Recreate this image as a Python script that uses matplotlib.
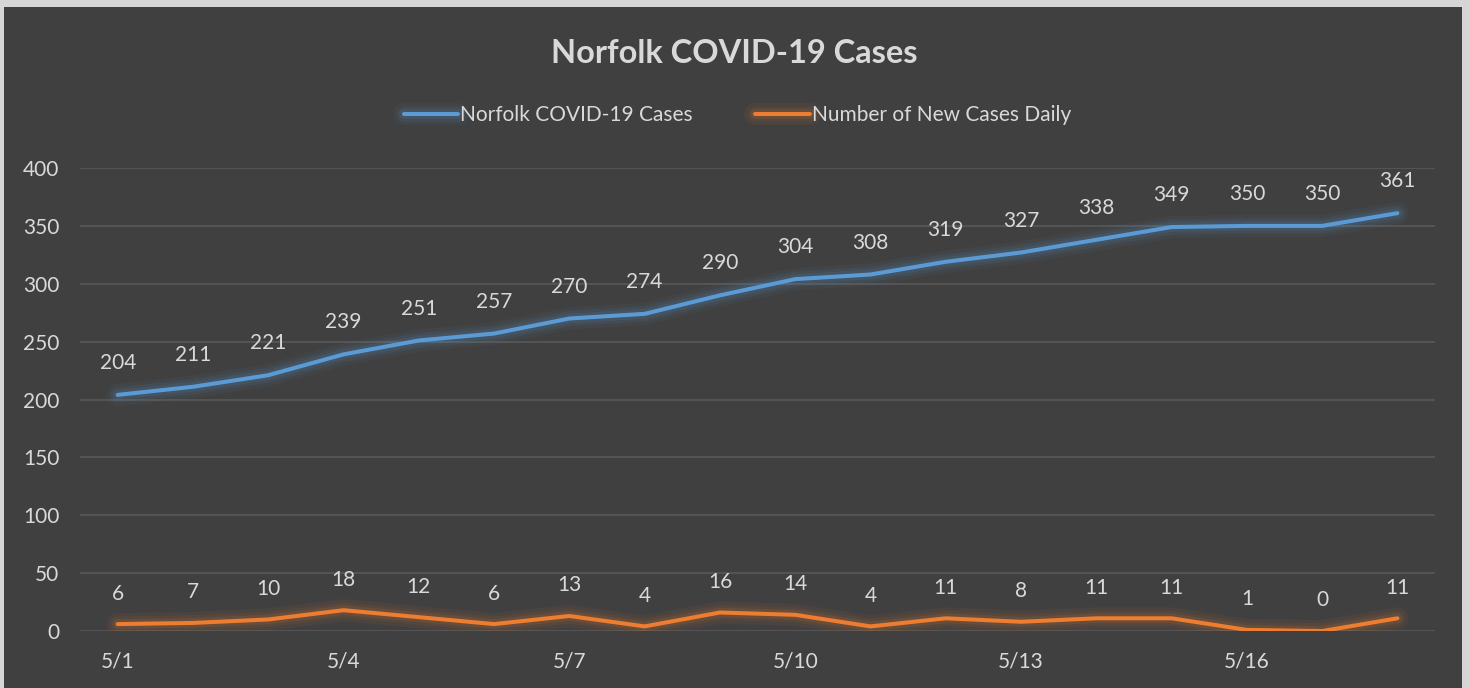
"""Norfolk COVID-19 cases, May 2020, dark Excel-style line chart."""

import matplotlib.pyplot as plt
import matplotlib.patheffects as pe
from matplotlib.patches import Rectangle

dates = ["5/1", "5/2", "5/3", "5/4", "5/5", "5/6", "5/7", "5/8", "5/9",
         "5/10", "5/11", "5/12", "5/13", "5/14", "5/15", "5/16", "5/17", "5/18"]
total_cases = [204, 211, 221, 239, 251, 257, 270, 274, 290,
               304, 308, 319, 327, 338, 349, 350, 350, 361]
new_cases = [6, 7, 10, 18, 12, 6, 13, 4, 16,
             14, 4, 11, 8, 11, 11, 1, 0, 11]
tick_every = 3

BG = "#404040"
EDGE = "#d6d6d6"
TEXT = "#d9d9d9"
GRID = "#595959"
BLUE = "#5b9bd5"
ORANGE = "#ed7d31"

plt.rcParams["font.family"] = ["Lato", "DejaVu Sans"]

W, H = 1469, 688
fig = plt.figure(figsize=(W / 100, H / 100), dpi=100, facecolor=EDGE)
# dark chart area, light frame on top, left and right only
fig.patches.append(Rectangle((4 / W, 0), (1462 - 4) / W, (H - 7) / H,
                             transform=fig.transFigure, facecolor=BG,
                             edgecolor="none", zorder=-5))
ax = fig.add_axes([0.0545, 0.0828, 0.9224, 0.673])
ax.set_zorder(1)
ax.set_facecolor(BG)

x = list(range(len(dates)))


def glow(color):
    return [pe.Stroke(linewidth=16, foreground=color, alpha=0.06),
            pe.Stroke(linewidth=11, foreground=color, alpha=0.08),
            pe.Stroke(linewidth=7, foreground=color, alpha=0.12),
            pe.Normal()]


ax.plot(x, total_cases, color=BLUE, linewidth=2.9, label="Norfolk COVID-19 Cases",
        path_effects=glow(BLUE), solid_capstyle="round", zorder=3)
ax.plot(x, new_cases, color=ORANGE, linewidth=2.9, label="Number of New Cases Daily",
        path_effects=glow(ORANGE), solid_capstyle="round", zorder=3)

for xi, v in zip(x, total_cases):
    ax.annotate(str(v), (xi, v), xytext=(0, 23), textcoords="offset points",
                ha="center", va="center", color=TEXT, fontsize=15)
for xi, v in zip(x, new_cases):
    ax.annotate(str(v), (xi, v), xytext=(0, 22), textcoords="offset points",
                ha="center", va="center", color=TEXT, fontsize=15)

ax.set_xlim(-0.5, len(dates) - 0.5)
ax.set_ylim(0, 400)
ax.set_yticks(range(0, 401, 50))
ax.set_xticks(x[::tick_every])
ax.set_xticklabels(dates[::tick_every])
ax.tick_params(colors=TEXT, labelsize=15, length=0)
ax.tick_params(axis="x", pad=15)
ax.tick_params(axis="y", pad=15)
ax.grid(axis="y", color=GRID, linewidth=1.2)
ax.set_axisbelow(True)
for side in ax.spines.values():
    side.set_visible(False)

fig.text(0.5, 0.922, "Norfolk COVID-19 Cases", ha="center", va="center",
         color=TEXT, fontsize=23.5, fontweight="bold", zorder=2)
leg = fig.legend(loc="center", bbox_to_anchor=(0.502, 0.833), ncol=2, frameon=False,
                 fontsize=15, labelcolor=TEXT, handlelength=2.6, handletextpad=0.1,
                 columnspacing=3.0)
leg.set_zorder(2)

fig.savefig("out.png", dpi=100, facecolor=EDGE)
